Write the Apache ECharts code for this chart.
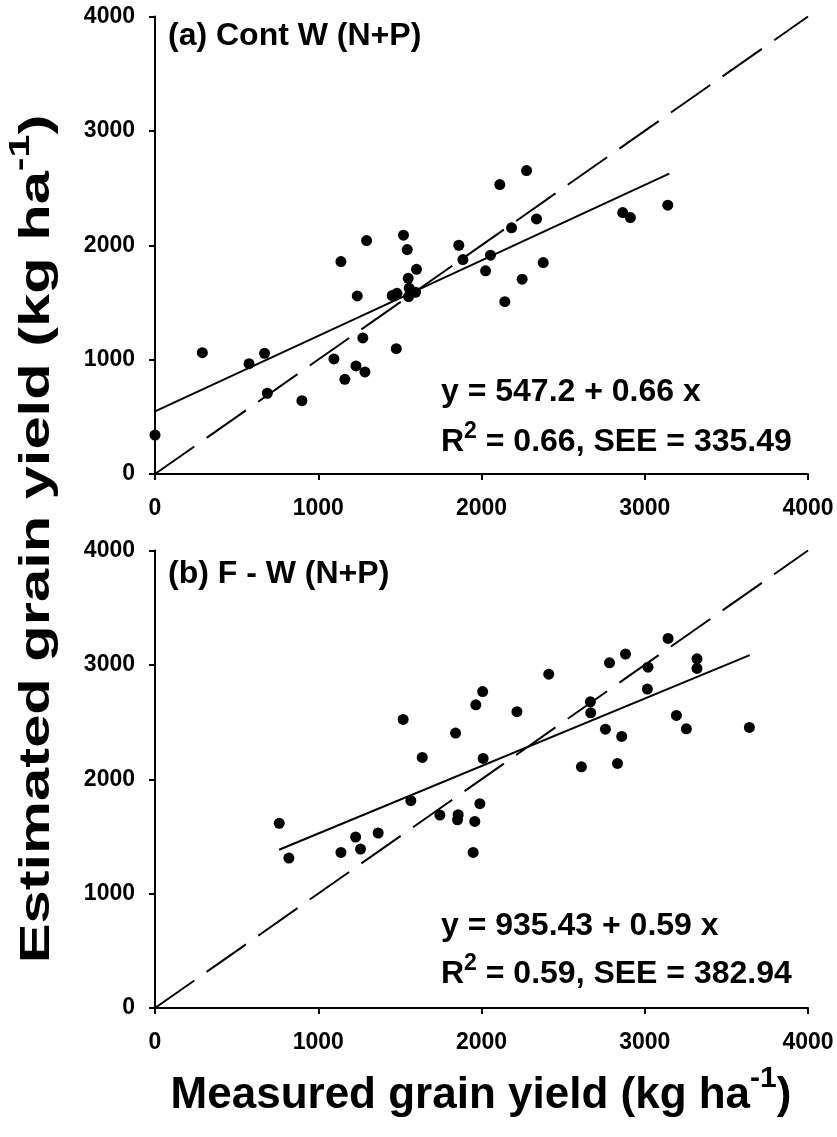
<!DOCTYPE html>
<html><head><meta charset="utf-8">
<script src="https://cdn.jsdelivr.net/npm/echarts@6/dist/echarts.min.js"></script>
<style>html,body{margin:0;padding:0;background:#fff}#c{width:837px;height:1137px}</style>
</head><body><div id="c"></div>
<script>
// ---- data ----
const axisTicks = [0, 1000, 2000, 3000, 4000];

// (a) Cont W (N+P)
const aMeasured  = [0, 290, 576, 671, 688, 900, 1096, 1139, 1163, 1231, 1239, 1273, 1286, 1296, 1453, 1478, 1482, 1522, 1545, 1551, 1553, 1557, 1596, 1602, 1861, 1886, 2025, 2055, 2112, 2143, 2184, 2249, 2276, 2337, 2378, 2865, 2912, 3141];
const aEstimated = [340, 1061, 965, 1055, 706, 641, 1006, 1857, 828, 945, 1557, 1190, 892, 2041, 1560, 1096, 1580, 2088, 1962, 1711, 1551, 1624, 1589, 1790, 2000, 1875, 1776, 1913, 2531, 1507, 2152, 1703, 2653, 2230, 1849, 2286, 2242, 2350];
const aFitLine = [[0, 547], [3150, 2626]];

// (b) F - W (N+P)
const bMeasured  = [761, 820, 1139, 1229, 1259, 1367, 1520, 1567, 1637, 1745, 1841, 1857, 1853, 1949, 1959, 1965, 1990, 2007, 2010, 2217, 2412, 2612, 2667, 2669, 2759, 2784, 2833, 2859, 2882, 3016, 3020, 3143, 3194, 3255, 3320, 3320, 3641];
const bEstimated = [1615, 1311, 1360, 1495, 1390, 1530, 2523, 1813, 2191, 1687, 2404, 1690, 1645, 1360, 1631, 2651, 1786, 2767, 2182, 2591, 2919, 2109, 2677, 2581, 2438, 3018, 2138, 2374, 3094, 2788, 2980, 3231, 2558, 2441, 3053, 2969, 2453];
const bFitLine = [[760, 1384], [3643, 3085]];

const oneToOne = [[0, 0], [4000, 4000]];

const panelTitles = ['(a) Cont W (N+P)', '(b) F - W (N+P)'];
const eqLine1 = ['y = 547.2 + 0.66 x', 'y = 935.43 + 0.59 x'];
const eqLine2 = [' = 0.66, SEE = 335.49', ' = 0.59, SEE = 382.94'];

// ---- chart ----
const FF = '"Liberation Sans", Arial, Helvetica, sans-serif';
const zip = (xs, ys) => xs.map((x, i) => [x, ys[i]]);

function axis(idx, isX) {
  return {
    type: 'value', gridIndex: idx,
    min: axisTicks[0], max: axisTicks[axisTicks.length - 1], interval: axisTicks[1] - axisTicks[0],
    axisLine: { show: true, onZero: false, lineStyle: { color: '#000', width: 2 } },
    axisTick: { show: true, inside: false, length: 6, lineStyle: { color: '#000', width: 2 } },
    axisLabel: { color: '#000', fontSize: 23, fontWeight: 'bold', fontFamily: FF, margin: isX ? 23 : 20,
      formatter: v => String(v) },
    splitLine: { show: false }
  };
}

const grids = [
  { left: 155, top: 16.5, width: 653, height: 457.5 },
  { left: 155, top: 550.5, width: 653, height: 457.5 }
];

function seriesFor(idx, pts, fit) {
  return [
    { type: 'line', xAxisIndex: idx, yAxisIndex: idx, data: oneToOne, symbol: 'none', silent: true,
      lineStyle: { color: '#000', width: 2, type: [48, 15] }, z: 2 },
    { type: 'line', xAxisIndex: idx, yAxisIndex: idx, data: fit, symbol: 'none', silent: true,
      lineStyle: { color: '#000', width: 2 }, z: 3 },
    { type: 'scatter', xAxisIndex: idx, yAxisIndex: idx, data: pts, symbol: 'circle', symbolSize: 11,
      itemStyle: { color: '#000', opacity: 1 }, z: 4 }
  ];
}

const eqY = [[392, 442], [926, 974]];
const titleY = [36, 574];

const graphics = [];
for (let i = 0; i < 2; i++) {
  graphics.push({ type: 'text', x: 168, y: titleY[i], style: {
    text: panelTitles[i], font: 'bold 32px ' + FF, fill: '#000', align: 'left', verticalAlign: 'middle' } });
  graphics.push({ type: 'text', x: 441, y: eqY[i][0], style: {
    text: eqLine1[i], font: 'bold 32px ' + FF, fill: '#000', align: 'left', verticalAlign: 'middle' } });
  graphics.push({ type: 'text', x: 441, y: eqY[i][1], style: {
    text: '{m|R}{s|2}{m|' + eqLine2[i] + '}', align: 'left', verticalAlign: 'middle',
    rich: {
      m: { fontSize: 32, fontWeight: 'bold', fontFamily: FF, fill: '#000', color: '#000', lineHeight: 44 },
      s: { fontSize: 23, fontWeight: 'bold', fontFamily: FF, fill: '#000', color: '#000', lineHeight: 23, verticalAlign: 'top' }
    } } });
}
// axis titles
graphics.push({ type: 'text', x: 481, y: 1096, style: {
  text: '{m|Measured grain yield (kg ha}{s|-1}{m|)}', align: 'center', verticalAlign: 'middle',
  rich: {
    m: { fontSize: 44, fontWeight: 'bold', fontFamily: FF, fill: '#000', color: '#000', lineHeight: 64 },
    s: { fontSize: 30, fontWeight: 'bold', fontFamily: FF, fill: '#000', color: '#000', lineHeight: 30, verticalAlign: 'top' }
  } } });
graphics.push({ type: 'text', x: 37, y: 539, rotation: Math.PI / 2, scaleX: 1.42, style: {
  text: '{m|Estimated grain yield (kg ha}{s|-1}{m|)}', align: 'center', verticalAlign: 'middle',
  rich: {
    m: { fontSize: 42, fontWeight: 'bold', fontFamily: FF, fill: '#000', color: '#000', lineHeight: 61 },
    s: { fontSize: 29, fontWeight: 'bold', fontFamily: FF, fill: '#000', color: '#000', lineHeight: 29, verticalAlign: 'top' }
  } } });

const chart = echarts.init(document.getElementById('c'), null, { renderer: 'canvas' });
chart.setOption({
  animation: false,
  backgroundColor: '#fff',
  grid: grids,
  xAxis: [axis(0, true), axis(1, true)],
  yAxis: [axis(0, false), axis(1, false)],
  series: [...seriesFor(0, zip(aMeasured, aEstimated), aFitLine), ...seriesFor(1, zip(bMeasured, bEstimated), bFitLine)],
  graphic: graphics
});
</script></body></html>
